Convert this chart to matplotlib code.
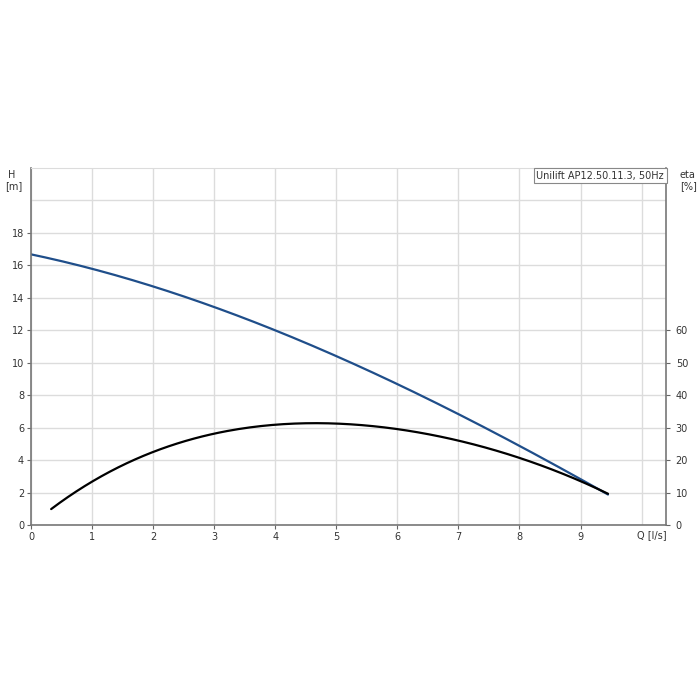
import numpy as np
import matplotlib.pyplot as plt

# pump curve
q_head = [0.0, 1.0, 2.0, 3.0, 4.0, 5.0, 6.0, 7.0, 8.0, 9.0, 9.45]
head = [16.7, 15.75, 14.7, 13.45, 12.0, 10.4, 8.7, 6.85, 4.8, 2.9, 1.85]

q_eta = [0.33, 1.0, 2.0, 3.0, 4.0, 4.7, 5.0, 6.0, 7.0, 8.0, 9.0, 9.45]
eta = [5.0, 13.3, 22.2, 28.4, 31.1, 31.4, 31.2, 29.3, 26.0, 20.6, 14.0, 9.3]

h_ticks = [0, 2, 4, 6, 8, 10, 12, 14, 16, 18]
eta_ticks = [0, 10, 20, 30, 40, 50, 60]
q_ticks = [0, 1, 2, 3, 4, 5, 6, 7, 8, 9]
title = "Unilift AP12.50.11.3, 50Hz"

fig = plt.figure(figsize=(7, 7), dpi=100)
ax = fig.add_axes([31 / 700, 175 / 700, 635 / 700, 357 / 700])

# smooth curves through the read points
qs = np.linspace(q_head[0], q_head[-1], 200)
hs = np.polyval(np.polyfit(q_head, head, 3), qs)
ax.plot(qs, hs, color="#1f4e8a", lw=1.6, solid_capstyle="round")

qe = np.linspace(q_eta[0], q_eta[-1], 200)
es = np.polyval(np.polyfit(q_eta, eta, 4), qe)
ax.plot(qe, es / 5.0, color="black", lw=1.6, solid_capstyle="round")

ax.set_xlim(0, 10.4)
ax.set_ylim(0, 22)
ax.set_xticks(q_ticks)
ax.set_xticks([10], minor=True)
ax.set_yticks(h_ticks)
ax.set_yticks([20], minor=True)
ax.grid(True, which="both", color="#dcdcdc", lw=1)
ax.set_axisbelow(True)
ax.tick_params(labelsize=7, length=3, color="#666666", labelcolor="#333333", pad=2)
ax.tick_params(which="minor", length=0)

for s in ["left", "bottom", "right"]:
    ax.spines[s].set_color("#777777")
    ax.spines[s].set_linewidth(1.2)
ax.spines["top"].set_color("#dcdcdc")

ax2 = ax.twinx()
ax2.set_ylim(0, 110)
ax2.set_yticks(eta_ticks)
ax2.tick_params(labelsize=7, length=3, color="#666666", labelcolor="#333333", pad=4)
for s in ax2.spines.values():
    s.set_visible(False)

fig.text(8 / 700, 1 - 175 / 700, "H", fontsize=7, color="#333333", va="center")
fig.text(5 / 700, 1 - 186 / 700, "[m]", fontsize=7, color="#333333", va="center")
fig.text(680 / 700, 1 - 175 / 700, "eta", fontsize=7, color="#333333", va="center")
fig.text(680 / 700, 1 - 186 / 700, "[%]", fontsize=7, color="#333333", va="center")
fig.text(637 / 700, 1 - 535 / 700, "Q [l/s]", fontsize=7, color="#333333", va="center")

ax.text(0.997, 0.992, title, transform=ax.transAxes, ha="right", va="top", fontsize=7,
        color="#333333", bbox=dict(boxstyle="square,pad=0.25", fc="white", ec="#888888", lw=0.8))

fig.savefig("out.png", dpi=100)
